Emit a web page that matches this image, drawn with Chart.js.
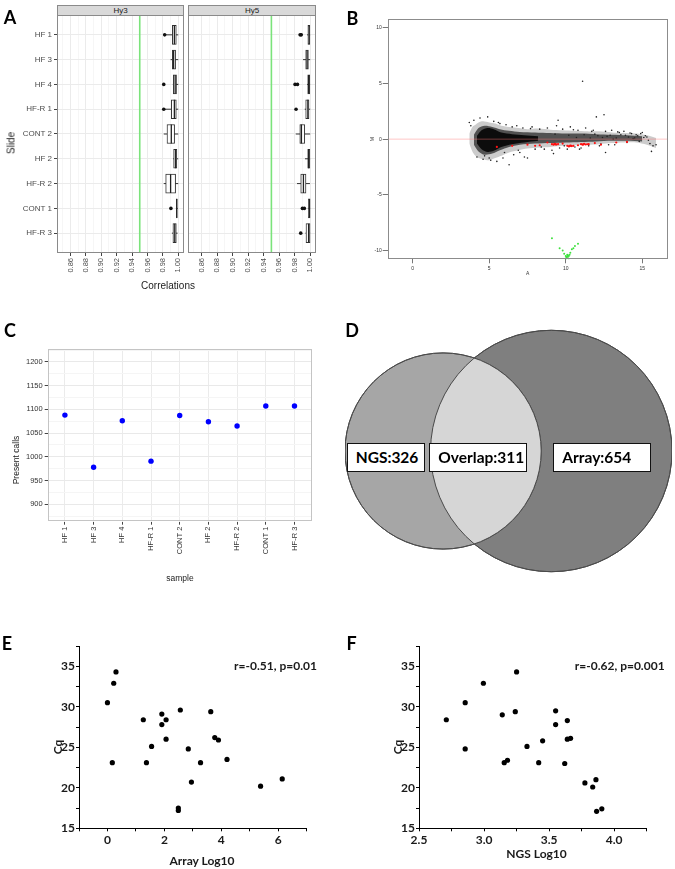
<!DOCTYPE html>
<html>
<head>
<meta charset="utf-8">
<script src="https://cdn.jsdelivr.net/npm/chart.js@4.4.1/dist/chart.umd.min.js"></script>
<style>
  body { margin: 0; background: #fff; width: 675px; height: 869px; position: relative; overflow: hidden; font-family: "Liberation Sans", Arial, sans-serif; }
  canvas { position: absolute; }
  .t { position: absolute; white-space: nowrap; line-height: 1; }
  .box { position: absolute; background: #fff; border: 1px solid #111; box-sizing: border-box; font: bold 15.5px Lato, sans-serif; padding-left: 8px; display: flex; align-items: center; }
</style>
</head>
<body>
<script>
// ---- A: correlations per slide ----
var slides = ['HF 1', 'HF 3', 'HF 4', 'HF-R 1', 'CONT 2', 'HF 2', 'HF-R 2', 'CONT 1', 'HF-R 3'];
var corrTicks = [0.85, 0.86, 0.87, 0.88, 0.89, 0.90, 0.91, 0.92, 0.93, 0.94, 0.95, 0.96, 0.97, 0.98, 0.99, 1.00];
var corrCutoff = 0.95;

var hy3Low  = [0.9835, 0.9901, 0.9930, 0.9825, 0.9812, 0.9935, 0.9812, 0.9970, 0.9918];
var hy3Q1   = [0.9923, 0.9923, 0.9936, 0.9910, 0.9854, 0.9940, 0.9837, 0.9975, 0.9931];
var hy3Med  = [0.9950, 0.9940, 0.9960, 0.9950, 0.9910, 0.9965, 0.9901, 0.9980, 0.9955];
var hy3Q3   = [0.9975, 0.9966, 0.9978, 0.9975, 0.9953, 0.9982, 0.9966, 0.9987, 0.9975];
var hy3High = [1.0000, 1.0000, 1.0000, 1.0000, 1.0000, 1.0000, 1.0000, 0.9995, 0.9991];
var hy3Out  = [[0.9824], [], [0.9812], [0.9812], [], [], [], [0.9905], []];

var hy5Low  = [0.9960, 0.9908, 0.9960, 0.9930, 0.9814, 0.9933, 0.9830, 0.9970, 0.9940];
var hy5Q1   = [0.9970, 0.9942, 0.9968, 0.9942, 0.9866, 0.9968, 0.9878, 0.9977, 0.9946];
var hy5Med  = [0.9985, 0.9960, 0.9980, 0.9970, 0.9887, 0.9980, 0.9913, 0.9990, 0.9980];
var hy5Q3   = [0.9995, 0.9977, 0.9994, 0.9985, 0.9930, 0.9995, 0.9946, 0.9998, 0.9998];
var hy5High = [1.0000, 1.0000, 1.0000, 1.0000, 1.0000, 1.0000, 0.9997, 1.0000, 1.0000];
var hy5Out  = [[0.9870, 0.9885], [], [0.9805, 0.9836], [0.9818], [], [], [], [0.9900, 0.9925], [0.9878]];

// ---- B: MA plot ----
// density bands of the point cloud (outer, middle, core) + scattered points
var maOuterA    = [3.7, 3.9, 4.1, 4.3, 4.6, 5.0, 5.4, 5.8, 6.3, 6.9, 7.5, 8.2, 9.0, 9.8, 10.6, 11.4, 12.2, 13.0, 13.8, 14.6, 15.3, 15.9];
var maOuterHigh = [0.5, 1.1, 1.3, 1.5, 1.6, 1.5, 1.4, 1.2, 1.1, 1.0, 0.9, 0.95, 0.85, 0.8, 0.75, 0.7, 0.7, 0.6, 0.55, 0.5, 0.35, 0.1];
var maOuterLow  = [-0.4, -1.1, -1.5, -1.7, -1.8, -1.9, -1.7, -1.5, -1.2, -1.0, -0.85, -0.75, -0.7, -0.6, -0.55, -0.5, -0.45, -0.35, -0.3, -0.3, -0.5, -0.8];
var maMidA    = [4.0, 4.3, 4.7, 5.2, 5.7, 6.3, 7.0, 8.0, 9.0, 10.0, 11.0, 12.0, 13.0, 14.0, 15.0];
var maMidHigh = [0.4, 1.0, 1.2, 1.1, 0.9, 0.75, 0.65, 0.6, 0.55, 0.5, 0.5, 0.45, 0.4, 0.35, 0.25];
var maMidLow  = [-0.5, -1.1, -1.4, -1.3, -1.0, -0.7, -0.5, -0.4, -0.35, -0.3, -0.25, -0.2, -0.15, -0.15, -0.2];
var maCoreA    = [4.2, 4.5, 4.9, 5.3, 5.8, 6.5, 7.3, 8.2];
var maCoreHigh = [0.3, 0.8, 1.0, 0.9, 0.6, 0.45, 0.35, 0.25];
var maCoreLow  = [-0.4, -0.9, -1.15, -1.05, -0.7, -0.45, -0.3, -0.15];
var maA = [3.7, 3.8, 4.0, 4.2, 4.4, 4.6, 4.9, 5.1, 5.3, 5.5, 5.7, 5.9, 6.1, 6.3, 6.5, 6.6, 6.8, 7.0, 7.3, 7.5,
           7.2, 7.8, 8.0, 8.3, 8.6, 8.8, 9.1, 9.4, 9.2, 9.6, 9.8, 10.1, 10.3, 10.6, 10.8, 11.0, 11.1, 11.3, 11.5, 11.8,
           12.0, 12.2, 12.5, 12.6, 12.8, 13.0, 13.2, 13.5, 13.8, 14.0, 14.3, 14.6, 14.8, 15.0, 15.2, 15.4, 15.5, 15.7, 15.9, 15.6,
           12.6, 10.9, 9.5, 5.0, 4.7, 5.6, 6.0, 6.9, 7.7, 8.4, 9.9, 10.5, 11.7, 12.3, 13.4, 14.2, 14.9,
           12.1, 12.4, 12.9, 13.3, 13.6, 14.1, 14.4, 14.7, 15.1, 15.3, 11.9, 12.7, 13.1, 13.9, 14.5, 10.2, 10.7, 11.2, 11.6, 9.3];
var maM = [1.5, 1.2, 1.7, -1.6, 1.9, -1.8, 2.0, -1.9, 1.6, -2.0, 1.4, -1.7, 1.3, -2.3, 1.1, -1.4, 1.2, -1.2, -1.6, -1.7,
           1.0, 1.1, -0.9, 0.9, -0.9, 1.0, -1.0, 1.2, -1.3, -0.8, 0.9, -0.9, 1.1, -0.7, 0.8, -0.8, 5.2, 1.0, -0.6, 0.8,
           2.0, -0.6, 2.2, 0.7, -0.5, 0.8, -0.5, 0.6, 0.7, -0.3, 0.5, 0.4, -0.2, 0.6, 0.3, -0.1, -0.4, -0.6, -0.5, -1.1,
           -1.2, -0.9, 1.7, -1.7, -1.5, 1.5, -1.2, -1.0, 0.95, -0.7, -0.6, 0.85, 0.7, -0.45, 0.65, 0.55, 0.5,
           0.3, 0.15, 0.35, 0.1, 0.4, 0.2, 0.05, 0.3, 0.15, 0.2, 0.45, 0.25, 0.0, 0.35, 0.1, 0.35, 0.15, 0.4, 0.1, 0.45];
var redA = [9.1, 9.2, 9.25, 9.3, 9.35, 9.4, 9.5, 10.1, 10.2, 10.25, 10.3, 10.35, 10.4, 10.5, 11.0, 11.1, 11.15, 11.2, 11.3, 11.4, 11.5,
            8.0, 8.3, 7.5, 8.8, 9.8, 10.8, 11.9, 12.3, 13.3, 14.0, 6.5, 5.5];
var redM = [-0.45, -0.5, -0.44, -0.42, -0.47, -0.48, -0.44, -0.6, -0.65, -0.62, -0.58, -0.6, -0.62, -0.6, -0.45, -0.5, -0.47, -0.42, -0.48, -0.46, -0.45,
            -0.6, -0.55, -0.5, -0.3, -0.4, -0.55, -0.35, -0.5, -0.3, -0.25, -0.6, -0.7];
var greenA = [9.1, 9.6, 9.8, 9.9, 10.0, 10.05, 10.1, 10.15, 10.2, 10.3, 10.4, 10.6, 10.8, 10.0, 10.2, 10.1, 10.15, 10.25, 10.05, 10.5];
var greenM = [-8.9, -9.8, -10.0, -10.3, -10.5, -10.6, -10.4, -10.7, -10.5, -10.2, -9.9, -9.6, -9.4, -10.8, -10.75, -10.55, -10.45, -10.4, -10.65, -9.8];
var maXTicks = [0, 5, 10, 15];
var maYTicks = [-10, -5, 0, 5, 10];

// ---- C: present calls ----
var samples = ['HF 1', 'HF 3', 'HF 4', 'HF-R 1', 'CONT 2', 'HF 2', 'HF-R 2', 'CONT 1', 'HF-R 3'];
var presentCalls = [1088, 978, 1076, 991, 1087, 1074, 1065, 1107, 1107];
var callTicks = [875, 900, 925, 950, 975, 1000, 1025, 1050, 1075, 1100, 1125, 1150, 1175, 1200, 1225];

// ---- D: venn ----
var vennNames = ['NGS', 'Overlap', 'Array'];
var vennCounts = [326, 311, 654];

// ---- E / F: Cq vs expression ----
var arrayLog = [0.30, 0.22, 0.00, 0.17, 1.26, 1.37, 1.55, 1.91, 1.91, 2.06, 2.06, 2.56, 2.49, 2.49, 2.84, 2.95, 3.27, 3.63, 3.77, 3.90, 4.20, 5.38, 6.14];
var arrayCq  = [34.3, 32.9, 30.5, 23.1, 28.4, 23.1, 25.1, 29.1, 27.8, 28.4, 26.0, 29.6, 17.5, 17.2, 24.8, 20.7, 23.1, 29.4, 26.2, 25.9, 23.5, 20.2, 21.1];
var ngsLog = [2.71, 2.855, 2.855, 2.995, 3.14, 3.155, 3.18, 3.24, 3.25, 3.33, 3.42, 3.45, 3.55, 3.55, 3.64, 3.62, 3.64, 3.665, 3.775, 3.835, 3.86, 3.865, 3.905];
var ngsCq  = [28.4, 30.5, 24.8, 32.9, 29.0, 23.1, 23.4, 29.4, 34.3, 25.1, 23.1, 25.8, 29.5, 27.8, 28.3, 23.0, 26.0, 26.1, 20.6, 20.1, 21.0, 17.1, 17.4];
var cqTicks = [15, 17.5, 20, 22.5, 25, 27.5, 30, 32.5, 35, 37.5];
var arrayTicks = [-1, 0, 1, 2, 3, 4, 5, 6, 7];
var ngsTicks = [2.5, 2.75, 3.0, 3.25, 3.5, 3.75, 4.0, 4.25];

var SANS = '"Liberation Sans", Arial, sans-serif';
var CAL = 'Lato, sans-serif';

// draws a box round the plot area
Chart.register({
  id: 'frame',
  afterDraw: function(chart, args, opts) {
    if (!opts.color) return;
    var a = chart.chartArea, ctx = chart.ctx;
    ctx.save();
    ctx.strokeStyle = opts.color;
    ctx.lineWidth = 1;
    ctx.strokeRect(Math.round(a.left) + 0.5, Math.round(a.top) + 0.5, Math.round(a.width) - 1, Math.round(a.height) - 1);
    ctx.restore();
  }
});

function place(x, y, w, h) {
  var c = document.createElement('canvas');
  c.width = w; c.height = h;
  c.style.left = x + 'px'; c.style.top = y + 'px';
  document.body.appendChild(c);
  return c;
}

function label(str, x, y, css, rot) {
  var d = document.createElement('div');
  d.className = 't';
  d.textContent = str;
  d.style.cssText = css;
  d.style.left = x + 'px';
  d.style.top = y + 'px';
  d.style.transform = 'translate(-50%,-50%)' + (rot ? ' rotate(-90deg)' : '');
  document.body.appendChild(d);
}

function pts(xs, ys) {
  return xs.map(function(x, i) { return {x: x, y: ys[i]}; });
}

// fix the size of an axis box, drop the label overhang padding
function fitW(w) { return function(s) { s.width = w; s.paddingTop = s.paddingBottom = s.paddingLeft = s.paddingRight = 0; }; }
function fitH(h) { return function(s) { s.height = h; s.paddingTop = s.paddingBottom = s.paddingLeft = s.paddingRight = 0; }; }

var base = {
  responsive: false, animation: false, events: [],
  plugins: {legend: {display: false}, tooltip: {enabled: false}}
};
function pad(t, r) { return {autoPadding: false, padding: {top: t, right: r, left: 0, bottom: 0}}; }

function isEven(v) { return Math.round(v * 100) % 2 === 0; }

// ---------- A ----------
function boxPanel(canvas, low, q1, med, q3, high, out, withLabels) {
  var boxes = [], whisk = [], meds = [], outs = [];
  slides.forEach(function(s, i) {
    boxes.push({x: [q1[i], q3[i]], y: i});
    whisk.push({x: low[i], y: i}, {x: high[i], y: i}, {x: NaN, y: NaN});
    meds.push({x: med[i], y: i - 0.38}, {x: med[i], y: i + 0.38}, {x: NaN, y: NaN});
    out[i].forEach(function(v) { outs.push({x: v, y: i}); });
  });
  return new Chart(canvas, {
    type: 'scatter',
    data: {datasets: [
      {type: 'scatter', showLine: true, data: [{x: corrCutoff, y: -0.8}, {x: corrCutoff, y: 8.8}], borderColor: '#7be37b', borderWidth: 1.6, pointRadius: 0, order: 5},
      {type: 'scatter', showLine: true, data: whisk, borderColor: '#333', borderWidth: 1, pointRadius: 0, order: 4},
      {type: 'bar', indexAxis: 'y', data: boxes, backgroundColor: '#fff', borderColor: '#333', borderWidth: 1, borderSkipped: false, barThickness: 19, order: 3},
      {type: 'scatter', showLine: true, data: meds, borderColor: '#222', borderWidth: 1.3, pointRadius: 0, order: 2},
      {type: 'scatter', data: outs, backgroundColor: '#111', borderWidth: 0, pointRadius: 1.8, order: 1}
    ]},
    options: Object.assign({}, base, {
      layout: pad(0, 1),
      plugins: Object.assign({}, base.plugins, {frame: {color: '#8a8a8a'}}),
      scales: {
        x: {
          type: 'linear', min: 0.8425, max: 1.0075, offset: false,
          afterBuildTicks: function(s) { s.ticks = corrTicks.map(function(v) { return {value: v}; }); },
          afterFit: fitH(30),
          border: {display: false},
          grid: {
            offset: false,
            color: function(c) { return isEven(c.tick.value) ? '#ebebeb' : '#f6f6f6'; },
            tickColor: function(c) { return isEven(c.tick.value) ? '#444' : 'rgba(0,0,0,0)'; },
            tickLength: 3
          },
          ticks: {autoSkip: false, minRotation: 90, maxRotation: 90, padding: 2, color: '#4d4d4d', font: {family: SANS, size: 7.5},
            callback: function(v) { return isEven(v) ? v.toFixed(2) : ''; }}
        },
        y: {
          type: 'linear', min: -0.8, max: 8.8, reverse: true, offset: false,
          afterBuildTicks: function(s) { s.ticks = slides.map(function(n, i) { return {value: i}; }); },
          afterFit: fitW(withLabels ? 57 : 0),
          border: {display: false},
          grid: {offset: false, color: '#ebebeb', drawTicks: withLabels, tickLength: 3, tickColor: '#444'},
          ticks: {display: withLabels, padding: 2, color: '#4d4d4d', font: {family: SANS, size: 8},
            callback: function(v) { return slides[v]; }}
        }
      }
    })
  });
}

boxPanel(place(0, 15, 185, 268), hy3Low, hy3Q1, hy3Med, hy3Q3, hy3High, hy3Out, true);
boxPanel(place(188, 15, 129, 268), hy5Low, hy5Q1, hy5Med, hy5Q3, hy5High, hy5Out, false);

var stripCss = 'background:#d9d9d9;border:1px solid #8a8a8a;box-sizing:border-box;height:11px;font:8px ' + SANS + ';color:#1a1a1a;display:flex;align-items:center;justify-content:center;transform:none;';
[['Hy3', 57, 127], ['Hy5', 188, 128]].forEach(function(s) {
  var d = document.createElement('div');
  d.className = 't';
  d.textContent = s[0];
  d.style.cssText = stripCss + 'left:' + s[1] + 'px;top:5px;width:' + s[2] + 'px;';
  document.body.appendChild(d);
});
label('Slide', 10.5, 143, 'font:10px ' + SANS + ';color:#222;', true);
label('Correlations', 168, 285, 'font:10px ' + SANS + ';color:#222;');

// ---------- B ----------
function band(xs, ys, fill, color, order) {
  return {type: 'line', data: pts(xs, ys), fill: fill, backgroundColor: color, borderWidth: 0, pointRadius: 0, tension: 0.3, order: order};
}
new Chart(place(350, 10, 322, 275), {
  type: 'scatter',
  data: {datasets: [
    band(maOuterA, maOuterHigh, '+1', 'rgba(0,0,0,0.2)', 9),
    band(maOuterA, maOuterLow, false, 'rgba(0,0,0,0)', 9),
    band(maMidA, maMidHigh, '+1', 'rgba(0,0,0,0.6)', 8),
    band(maMidA, maMidLow, false, 'rgba(0,0,0,0)', 8),
    band(maCoreA, maCoreHigh, '+1', 'rgba(0,0,0,0.85)', 7),
    band(maCoreA, maCoreLow, false, 'rgba(0,0,0,0)', 7),
    {data: pts(maA, maM), backgroundColor: '#222', borderWidth: 0, pointRadius: 0.8, order: 6},
    {data: pts(redA, redM), backgroundColor: '#ff1010', borderWidth: 0, pointRadius: 1.1, order: 3},
    {data: pts(greenA, greenM), backgroundColor: '#3ee03e', borderWidth: 0, pointRadius: 1, order: 3},
    {type: 'scatter', showLine: true, data: [{x: -1.63, y: 0}, {x: 16.66, y: 0}], borderColor: 'rgba(255,120,120,0.6)', borderWidth: 0.7, pointRadius: 0, order: 2}
  ]},
  options: Object.assign({}, base, {
    layout: pad(9, 4.3),
    plugins: Object.assign({}, base.plugins, {frame: {color: '#8c8c8c'}}),
    scales: {
      x: {
        type: 'linear', min: -1.63, max: 16.66,
        afterBuildTicks: function(s) { s.ticks = maXTicks.map(function(v) { return {value: v}; }); },
        afterFit: fitH(25.7),
        border: {display: false},
        grid: {drawOnChartArea: false, tickLength: 4, tickColor: '#777'},
        ticks: {padding: 2, color: '#333', font: {family: SANS, size: 5}},
        title: {display: true, text: 'A', color: '#333', font: {family: SANS, size: 5}, padding: {top: 0, bottom: 8}}
      },
      y: {
        type: 'linear', min: -10.8, max: 10.8,
        afterBuildTicks: function(s) { s.ticks = maYTicks.map(function(v) { return {value: v}; }); },
        afterFit: fitW(37.7),
        border: {display: false},
        grid: {drawOnChartArea: false, tickLength: 5, tickColor: '#777'},
        ticks: {padding: 1, color: '#333', font: {family: SANS, size: 5}},
        title: {display: true, text: 'M', color: '#333', font: {family: SANS, size: 5}, padding: {top: 20, bottom: 0}}
      }
    }
  })
});

// ---------- C ----------
new Chart(place(0, 340, 316, 245), {
  type: 'scatter',
  data: {datasets: [
    {data: pts(samples.map(function(s, i) { return i; }), presentCalls), backgroundColor: '#0000ff', borderWidth: 0, pointRadius: 2.7}
  ]},
  options: Object.assign({}, base, {
    layout: pad(9.3, 4.3),
    plugins: Object.assign({}, base.plugins, {frame: {color: '#c4c4c4'}}),
    scales: {
      x: {
        type: 'linear', min: -0.6, max: 8.6,
        afterBuildTicks: function(s) { s.ticks = samples.map(function(n, i) { return {value: i}; }); },
        afterFit: fitH(63.3),
        border: {display: false},
        grid: {color: '#ebebeb', tickLength: 3, tickColor: '#444'},
        ticks: {autoSkip: false, minRotation: 90, maxRotation: 90, padding: 2, color: '#333', font: {family: SANS, size: 7.5},
          callback: function(v) { return samples[v]; }}
      },
      y: {
        type: 'linear', min: 863.5, max: 1226.5,
        afterBuildTicks: function(s) { s.ticks = callTicks.map(function(v) { return {value: v}; }); },
        afterFit: fitW(47.7),
        border: {display: false},
        grid: {
          color: function(c) { return c.tick.value % 50 === 0 ? '#e9e9e9' : '#f5f5f5'; },
          tickColor: function(c) { return c.tick.value % 50 === 0 ? '#444' : 'rgba(0,0,0,0)'; },
          tickLength: 3
        },
        ticks: {padding: 2, color: '#333', font: {family: SANS, size: 7.5},
          callback: function(v) { return v % 50 === 0 ? v : ''; }}
      }
    }
  })
});
label('Present calls', 15.5, 460, 'font:8.5px ' + SANS + ';color:#222;', true);
label('sample', 180, 578, 'font:8.5px ' + SANS + ';color:#222;');

// ---------- D ----------
var ngsTotal = vennCounts[0] + vennCounts[1];
var arrayTotal = vennCounts[2] + vennCounts[1];
var rN = Math.sqrt(ngsTotal / Math.PI), rA = Math.sqrt(arrayTotal / Math.PI);
function lensArea(d) {
  var a = rN * rN * Math.acos((d * d + rN * rN - rA * rA) / (2 * d * rN));
  var b = rA * rA * Math.acos((d * d + rA * rA - rN * rN) / (2 * d * rA));
  var c = 0.5 * Math.sqrt((-d + rN + rA) * (d + rN - rA) * (d - rN + rA) * (d + rN + rA));
  return a + b - c;
}
var lo = rA - rN + 1e-6, hi = rN + rA - 1e-6;
for (var k = 0; k < 60; k++) {
  var mid = (lo + hi) / 2;
  if (lensArea(mid) > vennCounts[1]) lo = mid; else hi = mid;
}
var dist = (lo + hi) / 2;
var vW = 327, vH = 262;
var unitPerPx = (rN + dist + rA) / vW;

new Chart(place(345, 320, vW, vH), {
  type: 'bubble',
  data: {datasets: [
    {data: [{x: 0, y: 0, r: rN / unitPerPx}], backgroundColor: '#a6a6a6', borderColor: '#4a4a4a', borderWidth: 1, clip: false},
    {data: [{x: dist, y: 0, r: rA / unitPerPx}], backgroundColor: '#7f7f7f', borderColor: '#4a4a4a', borderWidth: 1, clip: false}
  ]},
  options: Object.assign({}, base, {
    layout: {autoPadding: false, padding: 0},
    scales: {
      x: {type: 'linear', display: false, min: -rN, max: dist + rA},
      y: {type: 'linear', display: false, min: -vH / 2 * unitPerPx, max: vH / 2 * unitPerPx}
    }
  }),
  plugins: [{
    id: 'lens',
    afterDatasetsDraw: function(chart) {
      var ctx = chart.ctx, x = chart.scales.x, y = chart.scales.y;
      var c1 = [x.getPixelForValue(0), y.getPixelForValue(0), x.getPixelForValue(rN) - x.getPixelForValue(0)];
      var c2 = [x.getPixelForValue(dist), y.getPixelForValue(0), x.getPixelForValue(dist + rA) - x.getPixelForValue(dist)];
      ctx.save();
      ctx.beginPath(); ctx.arc(c1[0], c1[1], c1[2], 0, Math.PI * 2); ctx.clip();
      ctx.beginPath(); ctx.arc(c2[0], c2[1], c2[2], 0, Math.PI * 2);
      ctx.fillStyle = '#d6d6d6'; ctx.fill();
      ctx.restore();
      ctx.save();
      ctx.strokeStyle = '#4a4a4a'; ctx.lineWidth = 1;
      [c1, c2].forEach(function(c) { ctx.beginPath(); ctx.arc(c[0], c[1], c[2], 0, Math.PI * 2); ctx.stroke(); });
      ctx.restore();
    }
  }]
});
[[346.7, 78.3], [429.3, 97.4], [553.3, 97.4]].forEach(function(b, i) {
  var d = document.createElement('div');
  d.className = 'box';
  d.textContent = vennNames[i] + ':' + vennCounts[i];
  d.style.left = b[0] + 'px'; d.style.top = '443.3px';
  d.style.width = b[1] + 'px'; d.style.height = '28.4px';
  document.body.appendChild(d);
});

// ---------- E / F ----------
function cqPanel(canvas, xs, ys, xTicks, xLabel) {
  return new Chart(canvas, {
    type: 'scatter',
    data: {datasets: [{data: pts(xs, ys), backgroundColor: '#000', borderWidth: 0, pointRadius: 2.6}]},
    options: Object.assign({}, base, {
      layout: pad(26, 13.3),
      scales: {
        x: {
          type: 'linear', min: xTicks[0], max: xTicks[xTicks.length - 1],
          afterBuildTicks: function(s) { s.ticks = xTicks.map(function(v) { return {value: v}; }); },
          afterFit: fitH(40.7),
          border: {display: true, color: '#000', width: 1},
          grid: {drawOnChartArea: false, tickLength: 3, tickColor: '#000'},
          ticks: {autoSkip: false, maxRotation: 0, padding: 2, color: '#1a1a1a', font: {family: CAL, size: 12, weight: 'bold'}, callback: xLabel}
        },
        y: {
          type: 'linear', min: 15, max: 37.5,
          afterBuildTicks: function(s) { s.ticks = cqTicks.map(function(v) { return {value: v}; }); },
          afterFit: fitW(79),
          border: {display: true, color: '#000', width: 1},
          grid: {drawOnChartArea: false, tickLength: 3, tickColor: '#000'},
          ticks: {padding: 1, color: '#1a1a1a', font: {family: CAL, size: 12, weight: 'bold'},
            callback: function(v) { return v % 5 === 0 ? v : ''; }}
        }
      }
    })
  });
}
cqPanel(place(0, 620, 320, 249), arrayLog, arrayCq, arrayTicks, function(v) { return v >= 0 && v % 2 === 0 ? v : ''; });
cqPanel(place(340, 620, 320, 249), ngsLog, ngsCq, ngsTicks, function(v) { return Math.round(v * 100) % 50 === 0 ? v.toFixed(1) : ''; });

var boldCss = 'font:bold 12px ' + CAL + ';color:#1a1a1a;';
label('r=-0.51, p=0.01', 275.5, 665, boldCss);
label('r=-0.62, p=0.001', 619.7, 665, boldCss);
label('Cq', 57, 746.5, boldCss, true);
label('Cq', 396.7, 746.5, boldCss, true);
label('Array Log10', 202, 860, boldCss);
label('NGS Log10', 536.5, 853, boldCss);

// panel letters
var letterCss = 'font:bold 18px ' + CAL + ';color:#000;';
label('A', 10, 17, letterCss);
label('B', 352.5, 17.5, letterCss);
label('C', 10, 330, letterCss);
label('D', 352, 330, letterCss);
label('E', 7, 643, letterCss);
label('F', 351.5, 643, letterCss);
</script>
</body>
</html>
